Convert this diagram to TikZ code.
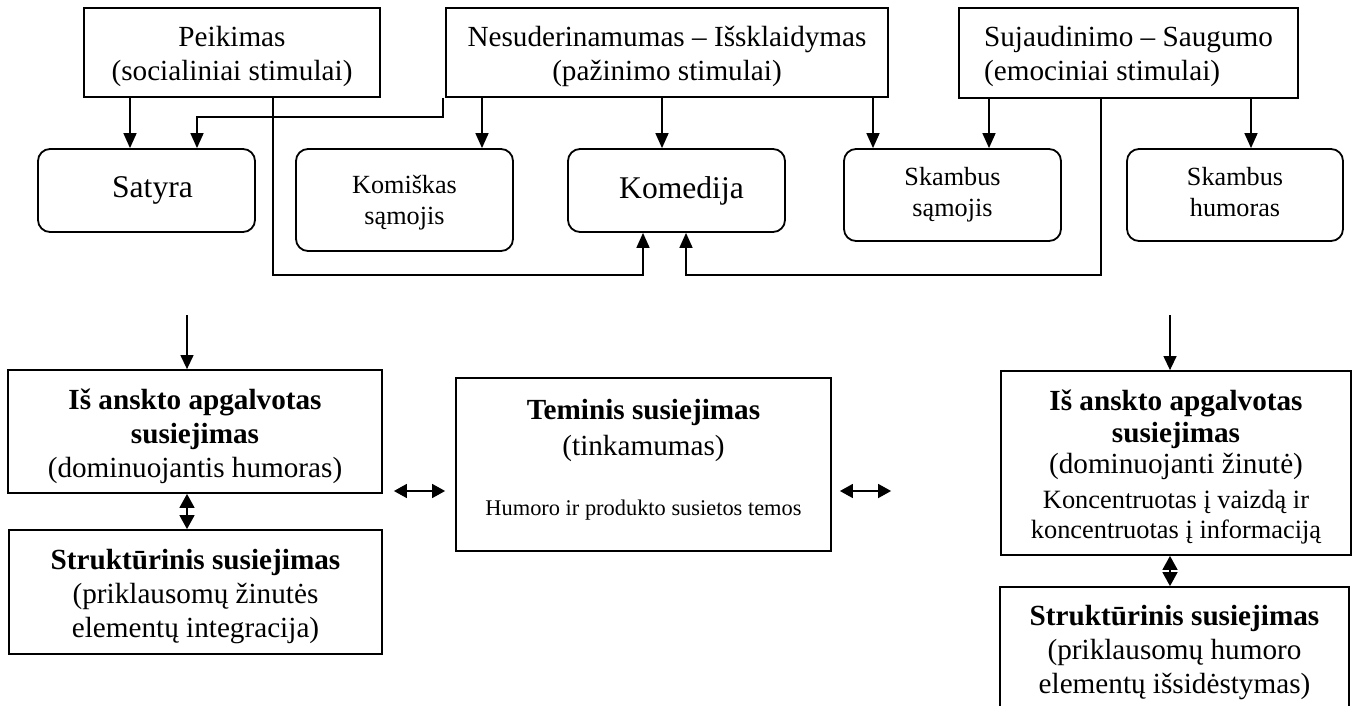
\documentclass[tikz,border=0pt]{standalone}
\usepackage{fontspec}
\setmainfont{Liberation Serif}
\usetikzlibrary{arrows.meta}
\newcommand\fmain{\fontsize{29.2}{34}\selectfont}
\newcommand\fbig{\fontsize{31.6}{36}\selectfont}
\newcommand\fsml{\fontsize{26.2}{31}\selectfont}
\newcommand\fhum{\fontsize{22.4}{26}\selectfont}
\newcommand\fkon{\fontsize{26.4}{30.5}\selectfont}
\newcommand\lift[1]{\rule{0pt}{#1}}
\begin{document}
\begin{tikzpicture}[x=1pt,y=-1pt,
  box/.style={draw,line width=1.8pt,inner sep=0pt,align=center,font=\fmain},
  rbox/.style={box,rounded corners=12pt},
  arr/.style={line width=1.6pt,-{Triangle[length=15pt,width=13pt]}},
  arrb/.style={line width=1.3pt,-{Triangle[length=14pt,width=13pt]}},
  dblv/.style={line width=1.6pt,{Triangle[length=14pt,width=15pt]}-{Triangle[length=14pt,width=15pt]}},
  dblh/.style={line width=1.6pt,{Triangle[length=13pt,width=14pt]}-{Triangle[length=13pt,width=14pt]}}]
\useasboundingbox (0,0) rectangle (1359,706);
% top boxes
\node[box,minimum width=296pt,minimum height=89pt] (peik) at (232,52.5) {\lift{28pt}Peikimas\\(socialiniai stimulai)};
\node[box,minimum width=442pt,minimum height=89pt] (nesud) at (667,52.5) {\lift{28pt}Nesuderinamumas – Išsklaidymas\\(pažinimo stimulai)};
\node[box,minimum width=339pt,minimum height=90pt,align=left] (sujaud) at (1128.5,53) {\lift{28pt}Sujaudinimo – Saugumo\\(emociniai stimulai)};
% rounded boxes
\node[rbox,minimum width=217pt,minimum height=83pt,font=\fbig] (sat) at (146.5,190.5) {\hspace*{12pt}Satyra};
\node[rbox,minimum width=217pt,minimum height=102pt,font=\fsml] (kom) at (404.5,200) {\lift{24pt}Komiškas\\sąmojis};
\node[rbox,minimum width=217pt,minimum height=83pt,font=\fbig] (komed) at (676.5,190.5) {\hspace*{10pt}Komedija};
\node[rbox,minimum width=217pt,minimum height=92pt,font=\fsml] (sksam) at (952.5,195) {Skambus\\sąmojis};
\node[rbox,minimum width=216pt,minimum height=92pt,font=\fsml] (skhum) at (1235,195) {Skambus\\humoras\rule[-6pt]{0pt}{6pt}};
% bottom boxes
\node[box,minimum width=374pt,minimum height=123pt] (isL) at (195,431.5) {\lift{30pt}\textbf{Iš anskto apgalvotas}\\\textbf{susiejimas}\\(dominuojantis humoras)};
\node[box,minimum width=373pt,minimum height=124pt] (strL) at (195.5,592) {\lift{30pt}\textbf{Struktūrinis susiejimas}\\(priklausomų žinutės\\elementų integracija)};
\node[box,minimum width=375pt,minimum height=173pt] (tem) at (643.5,464.5) {\textbf{Teminis susiejimas}\\[2pt](tinkamumas)\\[26pt]{\fhum Humoro ir produkto susietos temos\rule[-14pt]{0pt}{14pt}}};
\node[box,minimum width=350pt,minimum height=184pt] (isR) at (1176,463) {\lift{28pt}\textbf{Iš anskto apgalvotas}\\[-2pt]\textbf{susiejimas}\\[-3pt](dominuojanti žinutė)\\[1pt]{\fkon Koncentruotas į vaizdą ir}\\[-4pt]{\fkon koncentruotas į informaciją}};
\node[box,minimum width=349pt,minimum height=126pt] (strR) at (1174.5,650) {\lift{26pt}\textbf{Struktūrinis susiejimas}\\(priklausomų humoro\\elementų išsidėstymas)};
% connectors top
\draw[arr] (peik.south -| 130,0) -- (sat.north -| 130,0);
\draw[arr] ([xshift=-2pt]nesud.south west) -- ++(0,19) -| (sat.north -| 197,0);
\draw[arr] (nesud.south -| 482,0) -- (kom.north -| 482,0);
\draw[arr] (nesud.south -| 662,0) -- (komed.north -| 662,0);
\draw[arr] (nesud.south -| 873,0) -- (sksam.north -| 873,0);
\draw[arr] (sujaud.south -| 989,0) -- (sksam.north -| 989,0);
\draw[arr] (sujaud.south -| 1251,0) -- (skhum.north -| 1251,0);
\draw[arr] (peik.south -| 273,0) -- (273,275) -| (komed.south -| 643,0);
\draw[arr] (sujaud.south -| 1101,0) -- (1101,275) -| (komed.south -| 686,0);
% free arrows
\coordinate (fL) at (187,315);
\coordinate (fR) at (1170,315);
\draw[arrb] (fL) -- (isL.north -| fL);
\draw[arrb] (fR) -- (isR.north -| fR);
% double arrows
\draw[dblv] (isL.south -| 187,0) -- (strL.north -| 187,0);
\draw[dblv] (isR.south -| 1170,0) -- (strR.north -| 1170,0);
\draw[dblh,shorten <=11pt,shorten >=10pt] (isL.east |- 0,491) -- (tem.west |- 0,491);
\draw[dblh,shorten <=8pt,shorten >=109pt] (tem.east |- 0,491) -- (isR.west |- 0,491);
\end{tikzpicture}
\end{document}
